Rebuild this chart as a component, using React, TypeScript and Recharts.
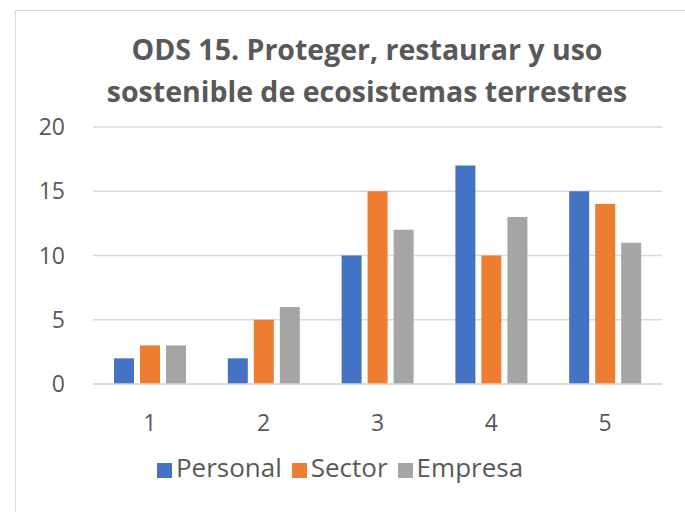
import React from 'react';
import { BarChart, Bar, XAxis, YAxis, CartesianGrid, Legend } from 'recharts';

const categories = ['1', '2', '3', '4', '5'];
const personal = [2, 2, 10, 17, 15];
const sector = [3, 5, 15, 10, 14];
const empresa = [3, 6, 12, 13, 11];
const yTicks = [0, 5, 10, 15, 20];

const data = categories.map((c, i) => ({
	cat: c,
	Personal: personal[i],
	Sector: sector[i],
	Empresa: empresa[i],
}));

const FONT = "'Open Sans', 'Liberation Sans', sans-serif";
const TEXT = '#595959';

const App: React.FC = () => {
	return (
		<div
			style={{
				position: 'absolute',
				left: 0,
				top: 0,
				width: 685,
				height: 512,
				background: '#fff',
				overflow: 'hidden',
				fontFamily: FONT,
			}}
		>
			{/* marco del gráfico */}
			<div
				style={{
					position: 'absolute',
					left: 15,
					top: 10,
					width: 680,
					height: 510,
					border: '1px solid #d9d9d9',
				}}
			/>
			<div
				style={{
					position: 'absolute',
					left: 0,
					top: 28,
					width: 734,
					textAlign: 'center',
					fontSize: 28.5,
					fontWeight: 'bold',
					color: TEXT,
					lineHeight: '42px',
				}}
			>
				ODS 15. Proteger, restaurar y uso
				<br />
				sostenible de ecosistemas terrestres
			</div>
			<div style={{ position: 'absolute', left: 0, top: 0 }}>
				<BarChart
					width={685}
					height={512}
					data={data}
					margin={{ top: 127, right: 23, left: 33, bottom: 37 }}
					barSize={20}
					barGap={6}
				>
					<CartesianGrid vertical={false} stroke="#d9d9d9" strokeWidth={1.5} />
					<XAxis
						dataKey="cat"
						axisLine={{ stroke: '#d9d9d9', strokeWidth: 1.5 }}
						tickLine={false}
						tick={{ fill: TEXT, fontSize: 23, fontFamily: FONT }}
						tickMargin={25}
						height={55}
					/>
					<YAxis
						domain={[0, 20]}
						ticks={yTicks}
						width={60}
						axisLine={false}
						tickLine={false}
						tick={{ fill: TEXT, fontSize: 23, fontFamily: FONT }}
						tickMargin={22}
					/>
					<Legend
						iconType="square"
						iconSize={15}
						verticalAlign="bottom"
						itemSorter={null}
						wrapperStyle={{ fontSize: 26, fontFamily: FONT, left: 0, width: 690, bottom: 27 }}
						formatter={(v: string) => <span style={{ color: TEXT }}>{v}</span>}
					/>
					<Bar dataKey="Personal" fill="#4472C4" isAnimationActive={false} />
					<Bar dataKey="Sector" fill="#ED7D31" isAnimationActive={false} />
					<Bar dataKey="Empresa" fill="#A5A5A5" isAnimationActive={false} />
				</BarChart>
			</div>
		</div>
	);
};

export default App;
